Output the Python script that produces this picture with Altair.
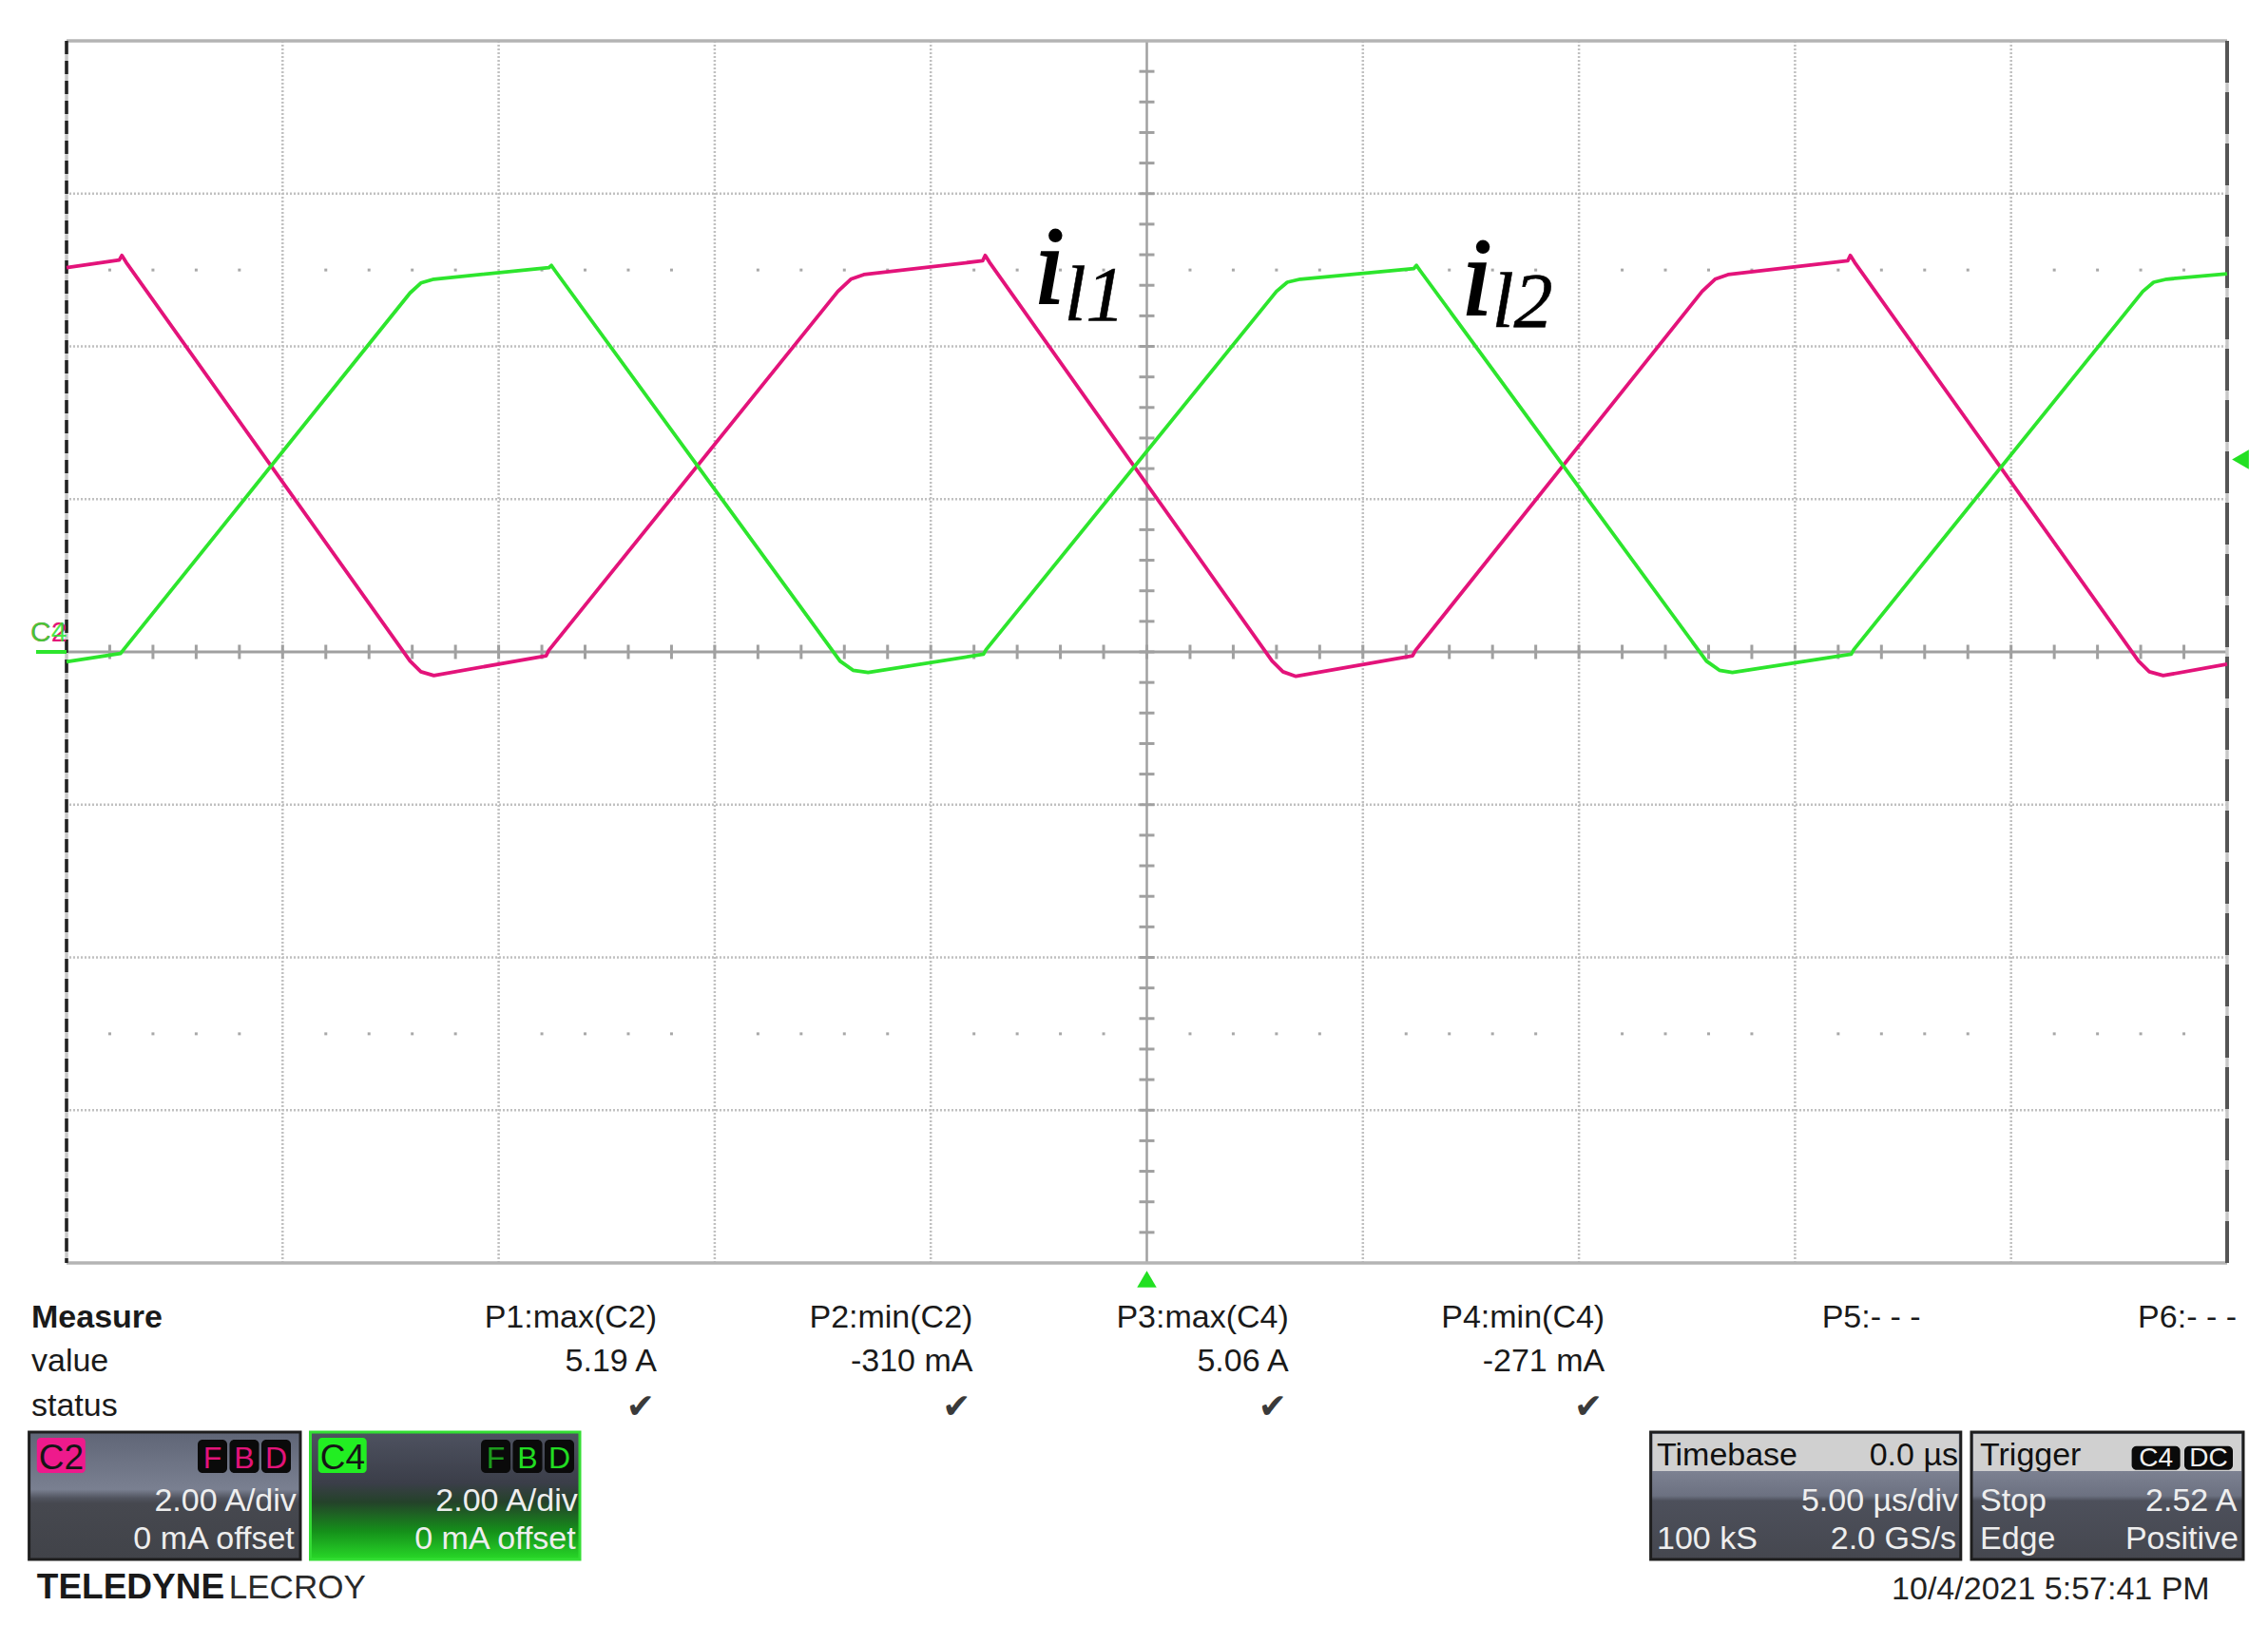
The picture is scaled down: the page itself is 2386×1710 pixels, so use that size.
import altair as alt
import pandas as pd

# ---------------- data (time in µs, current in A) ----------------
c2_time = [-25.00, -23.78, -23.72, -23.62, -17.05, -16.80, -16.50, -13.90, -13.84,
           -7.15, -6.85, -6.55, -3.80, -3.74, -3.64, 2.90, 3.15, 3.45, 6.15, 6.22,
           12.85, 13.15, 13.45, 16.22, 16.28, 16.38, 22.95, 23.20, 23.52, 25.00]
c2_curr = [5.03, 5.13, 5.19, 5.10, -0.12, -0.26, -0.31, -0.05, 0.02,
           4.72, 4.88, 4.94, 5.12, 5.19, 5.10, -0.12, -0.26, -0.32, -0.05, 0.02,
           4.72, 4.88, 4.94, 5.12, 5.19, 5.10, -0.12, -0.26, -0.31, -0.16]

c4_time = [-25.00, -23.75, -23.68, -17.05, -16.80, -16.50, -13.84, -13.78, -13.68,
           -7.10, -6.80, -6.45, -3.78, -3.72, 3.00, 3.25, 3.55, 6.18, 6.24, 6.34,
           12.95, 13.25, 13.55, 16.30, 16.36, 23.05, 23.30, 23.60, 25.00]
c4_curr = [-0.13, -0.02, 0.03, 4.70, 4.83, 4.88, 5.03, 5.06, 4.98,
           -0.12, -0.24, -0.27, -0.03, 0.03, 4.72, 4.84, 4.88, 5.02, 5.06, 4.98,
           -0.12, -0.24, -0.27, -0.03, 0.03, 4.72, 4.84, 4.88, 4.95]

meas_labels = ["P1:max(C2)", "P2:min(C2)", "P3:max(C4)", "P4:min(C4)", "P5:- - -", "P6:- - -"]
meas_values = ["5.19 A", "-310 mA", "5.06 A", "-271 mA", "", ""]
meas_status = ["\u2714", "\u2714", "\u2714", "\u2714", "", ""]

grid_t = [-20, -15, -10, -5, 5, 10, 15, 20]
grid_i = [-6, -4, -2, 2, 4, 6]
trigger_level = 2.52

# ---------------- styles ----------------
PINK = "#e3137a"
GREEN = "#2de52d"
SANS = "Liberation Sans, Arial, sans-serif"
SERIF = "Liberation Serif, Times New Roman, serif"
W, H = 2273, 1286

XS = alt.Scale(domain=[-25, 25], nice=False, zero=False)
YS = alt.Scale(domain=[-8, 8], nice=False, zero=False)
one = pd.DataFrame({"k": [0]})

layers = []


def T(text, x, y, size=34, align="left", color="#1a1a1a", weight="normal", font=SANS):
    return alt.Chart(one).mark_text(
        text=text, align=align, baseline="alphabetic", fontSize=size, font=font,
        fontWeight=weight, color=color
    ).encode(x=alt.value(x), y=alt.value(y))


def R(x, x2, y, y2, fill, stroke=None, sw=0, r=0):
    kw = dict(fill=fill, cornerRadius=r)
    if stroke is not None:
        kw.update(stroke=stroke, strokeWidth=sw)
    return alt.Chart(one).mark_rect(**kw).encode(
        x=alt.value(x), x2=alt.value(x2), y=alt.value(y), y2=alt.value(y2))


def grad(stops):
    return alt.LinearGradient(
        gradient="linear", x1=0, x2=0, y1=0, y2=1,
        stops=[alt.GradientStop(offset=o, color=c) for o, c in stops])


# ---------------- graticule ----------------
layers.append(alt.Chart(pd.DataFrame({"t": grid_t})).mark_rule(
    color="#c0c0c0", strokeWidth=2.5, strokeDash=[2, 2]).encode(
    x=alt.X("t:Q", scale=XS, axis=None)))
layers.append(alt.Chart(pd.DataFrame({"i": grid_i})).mark_rule(
    color="#c0c0c0", strokeWidth=2.5, strokeDash=[2, 2]).encode(
    y=alt.Y("i:Q", scale=YS, axis=None)))

dots_t = [k for k in range(-24, 25) if k % 5 != 0]
dots = pd.DataFrame({"t": dots_t * 2, "i": [5] * len(dots_t) + [-5] * len(dots_t)})
layers.append(alt.Chart(dots).mark_square(size=9, color="#a8a8a8", opacity=1).encode(
    x=alt.X("t:Q", scale=XS), y=alt.Y("i:Q", scale=YS)))

# centre cross
layers.append(alt.Chart(pd.DataFrame({"t": [0]})).mark_rule(
    color="#a0a0a0", strokeWidth=2.5).encode(x=alt.X("t:Q", scale=XS)))
layers.append(alt.Chart(pd.DataFrame({"i": [0]})).mark_rule(
    color="#a0a0a0", strokeWidth=3).encode(y=alt.Y("i:Q", scale=YS)))
ht = pd.DataFrame({"t": list(range(-24, 25)), "i": [0] * 49})
layers.append(alt.Chart(ht).mark_tick(orient="vertical", size=15, thickness=3,
                                      color="#a0a0a0", opacity=1).encode(
    x=alt.X("t:Q", scale=XS), y=alt.Y("i:Q", scale=YS)))
vt_i = [round(k * 0.4, 2) for k in range(-19, 20)]
vt = pd.DataFrame({"t": [0] * len(vt_i), "i": vt_i})
layers.append(alt.Chart(vt).mark_tick(orient="horizontal", size=16, thickness=3,
                                      color="#a0a0a0", opacity=1).encode(
    x=alt.X("t:Q", scale=XS), y=alt.Y("i:Q", scale=YS)))

# frame
layers.append(alt.Chart(pd.DataFrame({"i": [-8, 8]})).mark_rule(
    color="#b4b4b4", strokeWidth=3.5).encode(y=alt.Y("i:Q", scale=YS)))
layers.append(alt.Chart(pd.DataFrame({"t": [-25, 25]})).mark_rule(
    color="#c8c8c8", strokeWidth=3.5).encode(x=alt.X("t:Q", scale=XS)))
layers.append(alt.Chart(pd.DataFrame({"t": [-25]})).mark_rule(
    color="#222222", strokeWidth=3.5, strokeDash=[14, 7]).encode(x=alt.X("t:Q", scale=XS)))
layers.append(alt.Chart(pd.DataFrame({"t": [25]})).mark_rule(
    color="#555555", strokeWidth=4, strokeDash=[44, 10]).encode(x=alt.X("t:Q", scale=XS)))

# ---------------- traces ----------------
c2 = pd.DataFrame({"t": c2_time, "i": c2_curr, "n": range(len(c2_time))})
c4 = pd.DataFrame({"t": c4_time, "i": c4_curr, "n": range(len(c4_time))})
layers.append(alt.Chart(c2).mark_line(color=PINK, strokeWidth=3.8, strokeJoin="round").encode(
    x=alt.X("t:Q", scale=XS), y=alt.Y("i:Q", scale=YS), order="n:Q"))
layers.append(alt.Chart(c4).mark_line(color=GREEN, strokeWidth=3.8, strokeJoin="round").encode(
    x=alt.X("t:Q", scale=XS), y=alt.Y("i:Q", scale=YS), order="n:Q"))

# ---------------- markers ----------------
layers.append(alt.Chart(one).mark_rule(color=GREEN, strokeWidth=4).encode(
    x=alt.value(-32), x2=alt.value(0), y=alt.datum(0)))
layers.append(alt.Chart(one).mark_text(text="C2", align="left", baseline="alphabetic",
                                       fontSize=30, font=SANS, color=PINK, dy=-11).encode(
    x=alt.value(-38), y=alt.datum(0)))
layers.append(alt.Chart(one).mark_text(text="C4", align="left", baseline="alphabetic",
                                       fontSize=30, font=SANS, color=GREEN, opacity=0.85,
                                       dy=-11).encode(x=alt.value(-38), y=alt.datum(0)))
layers.append(alt.Chart(one).mark_point(shape="triangle-left", size=420, filled=True,
                                        color="#22e022", opacity=1).encode(
    x=alt.value(2287), y=alt.datum(trigger_level)))
layers.append(alt.Chart(one).mark_point(shape="triangle-up", size=420, filled=True,
                                        color="#22e022", opacity=1).encode(
    x=alt.datum(0), y=alt.value(1303)))

# ---------------- current labels ----------------
def lab(text, t, i, size, sw):
    return alt.Chart(one).mark_text(text=text, align="left", baseline="alphabetic",
                                    fontSize=size, font=SERIF, fontStyle="italic",
                                    color="#000000", stroke="#000000", strokeWidth=sw
                                    ).encode(x=alt.datum(t), y=alt.datum(i))

layers += [lab("i", -2.61, 4.56, 116, 2.2), lab("l1", -1.91, 4.34, 82, 0.6),
           lab("i", 7.28, 4.42, 116, 2.2), lab("l2", 7.99, 4.25, 82, 0.6)]

# ---------------- measure table ----------------
layers.append(T("Measure", -37, 1354, weight="bold"))
layers.append(T("value", -37, 1400))
layers.append(T("status", -37, 1447))
for k in range(6):
    xr = 621 + k * 332.4
    layers.append(T(meas_labels[k], xr, 1354, align="right"))
    if meas_values[k]:
        layers.append(T(meas_values[k], xr, 1400, align="right"))
    if meas_status[k]:
        layers.append(T(meas_status[k], xr - 2, 1449, size=36, align="right",
                        color="#3a3a3a", font="DejaVu Sans"))

# ---------------- channel boxes ----------------
Y0, Y1 = 1464, 1598
ROW2, ROW3 = 1547, 1587
layers.append(R(-39.4, 246, Y0, Y1, grad([(0, "#5f6576"), (0.45, "#7a8091"), (0.52, "#50535e"),
                                          (0.56, "#46484f"), (1, "#414349")]),
                stroke="#1e1e1e", sw=3))
layers.append(R(256.5, 540, Y0, Y1, grad([(0, "#4e5260"), (0.4, "#3b3e49"),
                                          (0.55, "#24422a"), (0.78, "#15901a"), (1, "#28d828")]),
                stroke="#33dd33", sw=3))
for (lx, lc, name, fx, fcs) in [(-31.2, "#ee1a8c", "C2", 138, [PINK, PINK, PINK]),
                                (264.7, "#22ee22", "C4", 436, ["#1c9a1c", "#22dd22", "#22dd22"])]:
    layers.append(R(lx, lx + 51, 1470, 1507, lc, r=4))
    layers.append(T(name, lx + 2, 1503, size=37, color="#151515"))
    for j, letter in enumerate("FBD"):
        bx = fx + j * 33.5
        layers.append(R(bx, bx + 31, 1472, 1507, "#0a0a0a", r=5))
        layers.append(T(letter, bx + 15.5, 1502, size=32, align="center", color=fcs[j]))
    layers.append(T("2.00 A/div", lx + 273, ROW2, align="right", color="#eeeeee"))
    layers.append(T("0 mA offset", lx + 271, ROW3, align="right", color="#eeeeee"))

layers.append(T("TELEDYNE", -31.2, 1638.7, size=37, weight="bold", color="#1a1a1a"))
layers.append(T("LECROY", 170.8, 1638.7, size=35, color="#2a2a2a"))

# ---------------- timebase / trigger ----------------
body = grad([(0, "#7d8292"), (0.3, "#7d8292"), (0.5, "#6c7181"), (0.54, "#4d505b"), (1, "#45474f")])
for (x0, x1) in [(1666.6, 1992.8), (2004, 2290)]:
    layers.append(R(x0, x1, Y0, Y1, body, stroke="#1e1e1e", sw=3))
    layers.append(R(x0 + 2, x1 - 2, Y0 + 2, 1505, "#d0d0d0"))

layers.append(T("Timebase", 1673, 1499, color="#111111"))
layers.append(T("0.0 \u00b5s", 1990, 1499, align="right", color="#111111"))
layers.append(T("5.00 \u00b5s/div", 1990, ROW2, align="right", color="#eeeeee"))
layers.append(T("100 kS", 1673, ROW3, color="#eeeeee"))
layers.append(T("2.0 GS/s", 1988, ROW3, align="right", color="#eeeeee"))

layers.append(T("Trigger", 2013, 1499, color="#111111"))
for (bx, s) in [(2172.6, "C4"), (2228, "DC")]:
    layers.append(R(bx, bx + 51, 1478.7, 1503.7, "#0a0a0a", r=5))
    layers.append(T(s, bx + 25.5, 1500, size=28, align="center", color="#f0f0f0"))
layers.append(T("Stop", 2013, ROW2, color="#eeeeee"))
layers.append(T("2.52 A", 2283.5, ROW2, align="right", color="#eeeeee"))
layers.append(T("Edge", 2013, ROW3, color="#eeeeee"))
layers.append(T("Positive", 2285, ROW3, align="right", color="#eeeeee"))

layers.append(T("10/4/2021 5:57:41 PM", 2254.7, 1640, align="right", color="#222222"))

chart = alt.layer(*layers).properties(
    width=W, height=H,
    padding={"left": 62, "top": 35, "right": 30, "bottom": 365},
    autosize=alt.AutoSizeParams(type="none"),
    background="white",
).configure_view(stroke=None)

chart.save("out.html", embed_options={"renderer": "svg", "actions": False})
